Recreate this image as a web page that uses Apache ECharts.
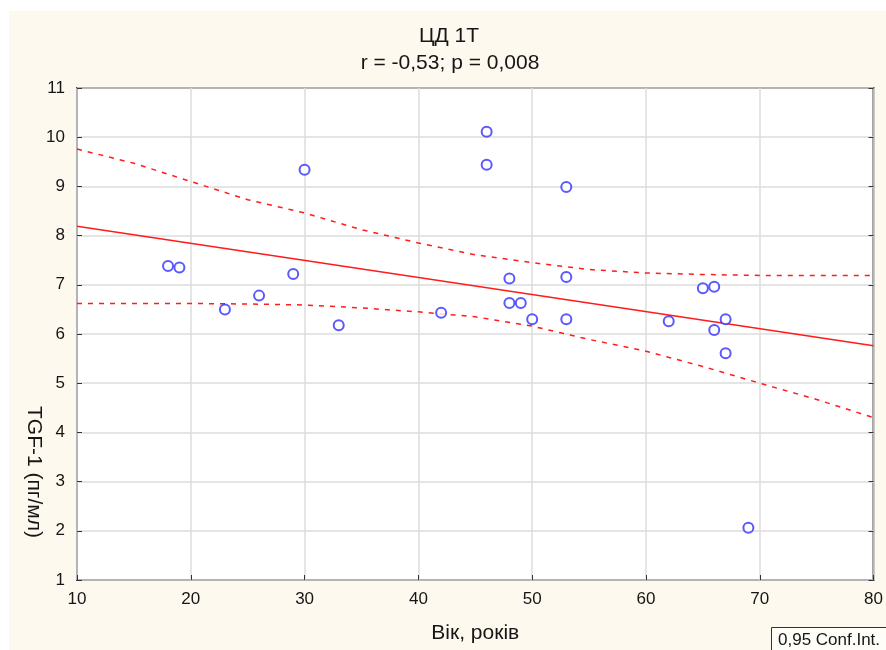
<!DOCTYPE html>
<html>
<head>
<meta charset="utf-8">
<script src="https://cdn.jsdelivr.net/npm/echarts@6/dist/echarts.min.js"></script>
<style>
html,body{margin:0;padding:0;background:#fff;}
#bg{position:absolute;left:9px;top:11px;width:877px;height:639px;background:#fef9ee;}
#chart{position:absolute;left:0;top:0;width:886px;height:650px;}
</style>
</head>
<body>
<div id="bg"></div>
<div id="chart"></div>
<script>
// Scatter data: age (years) and TGF-1 (pg/ml)
const ageValues = [18, 19, 23, 26, 29, 30, 33, 42, 46, 46, 48, 48, 49, 50, 53, 53, 53, 62, 65, 66, 66, 67, 67, 69];
const tgfValues = [7.38, 7.35, 6.50, 6.78, 7.22, 9.34, 6.18, 6.43, 10.11, 9.44, 7.13, 6.63, 6.63, 6.30, 8.99, 7.16, 6.30, 6.26, 6.93, 6.96, 6.08, 6.30, 5.61, 2.06];

// Regression line endpoints
const fitX = [10, 80];
const fitY = [8.19, 5.76];

// 0.95 confidence band
const bandX = [10, 15, 20, 25, 30, 35, 40, 45, 50, 55, 60, 65, 70, 75, 80];
const bandUpper = [9.76, 9.47, 9.10, 8.73, 8.46, 8.12, 7.85, 7.61, 7.45, 7.31, 7.24, 7.21, 7.19, 7.19, 7.19];
const bandLower = [6.62, 6.62, 6.62, 6.61, 6.59, 6.53, 6.45, 6.35, 6.16, 5.89, 5.65, 5.34, 5.00, 4.67, 4.30];

// Axis ticks
const xTicks = { min: 10, max: 80, interval: 10 };
const yTicks = { min: 1, max: 11, interval: 1 };

const titleText = 'ЦД 1T';
const subTitleText = 'r = -0,53; p = 0,008';
const xName = 'Вік, років';
const yName = 'TGF-1 (пг/мл)';
const legendText = '0,95 Conf.Int.';

const FONT = '"Liberation Sans", Arial, sans-serif';
const TXT = '#161616';
const zip = (a, b) => a.map((v, i) => [v, b[i]]);

const chart = echarts.init(document.getElementById('chart'), null, { renderer: 'canvas' });
const red = '#ff1c1c';
const option = {
  backgroundColor: 'transparent',
  animation: false,
  grid: {
    left: 77, right: 11, top: 88, bottom: 70,
    show: true, backgroundColor: '#ffffff', borderColor: '#3c3c3c', borderWidth: 2
  },
  xAxis: [{
    type: 'value', min: xTicks.min, max: xTicks.max, interval: xTicks.interval,
    name: xName, nameLocation: 'middle', nameGap: 43,
    nameTextStyle: { fontFamily: FONT, fontSize: 21, color: TXT },
    axisLine: { show: false },
    axisTick: { show: true, inside: true, length: 5, lineStyle: { color: '#333', width: 1 } },
    axisLabel: { fontFamily: FONT, fontSize: 17, color: TXT, margin: 11 },
    splitLine: { show: true, lineStyle: { color: '#dcdcdc', width: 1.5 } }
  }],
  yAxis: [{
    type: 'value', min: yTicks.min, max: yTicks.max, interval: yTicks.interval,
    axisLine: { show: false },
    axisTick: { show: true, inside: true, length: 5, lineStyle: { color: '#333', width: 1 } },
    axisLabel: { fontFamily: FONT, fontSize: 17, color: TXT, margin: 12 },
    splitLine: { show: true, lineStyle: { color: '#dcdcdc', width: 1.5 } }
  }, {
    type: 'value', position: 'right', min: yTicks.min, max: yTicks.max, interval: yTicks.interval,
    axisLine: { show: false },
    axisTick: { show: true, inside: true, length: 5, lineStyle: { color: '#333', width: 1 } },
    axisLabel: { show: false },
    splitLine: { show: false }
  }],
  series: [
    {
      type: 'line', data: zip(bandX, bandUpper), showSymbol: false, symbol: 'none',
      lineStyle: { color: red, width: 1.5, type: [5, 6] }, z: 3
    },
    {
      type: 'line', data: zip(bandX, bandLower), showSymbol: false, symbol: 'none',
      lineStyle: { color: red, width: 1.5, type: [5, 6] }, z: 3
    },
    {
      type: 'line', data: zip(fitX, fitY), showSymbol: false, symbol: 'none',
      lineStyle: { color: red, width: 1.5 }, z: 3
    },
    {
      type: 'scatter', data: zip(ageValues, tgfValues),
      symbol: 'emptyCircle', symbolSize: 10,
      itemStyle: { color: '#3030ff', borderColor: '#3030ff', borderWidth: 1.5 }, z: 4
    }
  ],
  graphic: [
    {
      type: 'text', x: 449, y: 36,
      style: { text: titleText, fontFamily: FONT, fontSize: 21, fill: TXT, align: 'center', verticalAlign: 'middle' }
    },
    {
      type: 'text', x: 450, y: 63,
      style: { text: subTitleText, fontFamily: FONT, fontSize: 21, fill: TXT, align: 'center', verticalAlign: 'middle' }
    },
    {
      type: 'text', x: 34, y: 472, rotation: -Math.PI / 2,
      style: { text: yName, fontFamily: FONT, fontSize: 21, fill: TXT, align: 'center', verticalAlign: 'middle' }
    },
    {
      type: 'rect', shape: { x: 771.5, y: 627.5, width: 120, height: 30 },
      style: { fill: '#fffdf7', stroke: '#333', lineWidth: 1 }
    },
    {
      type: 'text', x: 778, y: 640,
      style: { text: legendText, fontFamily: FONT, fontSize: 17, fill: TXT, align: 'left', verticalAlign: 'middle' }
    }
  ]
};
chart.setOption(option);
</script>
</body>
</html>
